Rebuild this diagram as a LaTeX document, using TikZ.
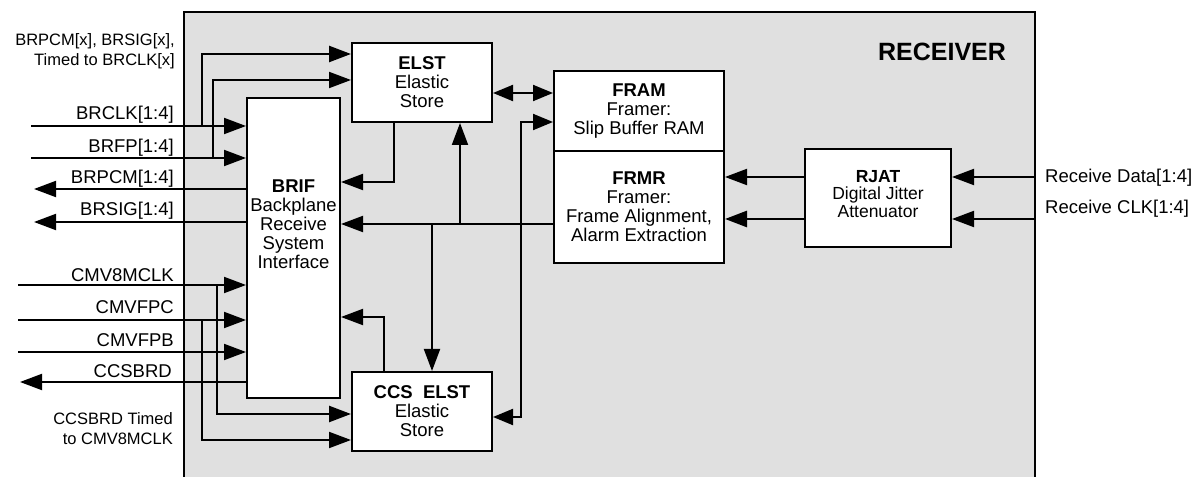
\documentclass[tikz,border=0pt]{standalone}
\usepackage{fontspec}
\setmainfont{Liberation Sans}
\usetikzlibrary{arrows.meta}
\definecolor{bggray}{RGB}{224,224,224}
\begin{document}
\begin{tikzpicture}[x=1bp,y=-1bp,
  box/.style={draw, line width=2bp, fill=white, inner sep=0pt, align=center, font=\fontsize{18.5bp}{19bp}\selectfont},
  wire/.style={line width=2bp},
  arr/.style={wire, -{Triangle[length=22bp,width=16bp]}},
  darr/.style={wire, {Triangle[length=20bp,width=16bp]}-{Triangle[length=20bp,width=16bp]}},
  lbl/.style={inner sep=0pt, font=\fontsize{18.5bp}{19bp}\selectfont},
  note/.style={inner sep=0pt, align=right, font=\fontsize{16.5bp}{20bp}\selectfont}]
\useasboundingbox (0,0) rectangle (1199,477);
\fill[bggray] (184,12) rectangle (1035,477);
\draw[line width=2bp] (184,477) -- (184,12) -- (1035,12) -- (1035,477);
\node[font=\fontsize{25bp}{26bp}\selectfont\bfseries, inner sep=0pt] (title) at (942,52) {RECEIVER};

% blocks
\node[box, minimum width=140bp, minimum height=79bp] (elst) at (422,82.5) {\textbf{ELST}\\Elastic\\Store};
\node[box, minimum width=170bp, minimum height=80bp] (fram) at (639,111) {\textbf{FRAM}\\Framer:\\Slip Buffer RAM};
\node[box, minimum width=170bp, minimum height=112bp] (frmr) at (639,207) {\textbf{FRMR}\\Framer:\\Frame Alignment,\\Alarm Extraction};
\node[box, minimum width=146bp, minimum height=98bp] (rjat) at (878,198) {};
\node[lbl, align=center, font=\fontsize{17.5bp}{17.5bp}\selectfont] (rjattext) at (878,194) {\textbf{RJAT}\\Digital Jitter\\Attenuator};
\node[box, minimum width=93bp, minimum height=300bp] (brif) at (293.5,248) {};
\node[lbl, align=center] (briftext) at (293.5,224) {\textbf{BRIF}\\Backplane\\Receive\\System\\Interface};
\node[box, minimum width=140bp, minimum height=79bp] (ccs) at (422,411.5) {\textbf{CCS\ \ ELST}\\Elastic\\Store};

% left free ends
\coordinate (brclkin) at (31,126);
\coordinate (brfpin) at (31,158);
\coordinate (brpcmout) at (34,189);
\coordinate (brsigout) at (34,222);
\coordinate (cmv8in) at (18,285);
\coordinate (cmvfpcin) at (18,320);
\coordinate (cmvfpbin) at (18,352);
\coordinate (ccsbrdout) at (20,382);
\coordinate (jclk) at (202,126);
\coordinate (jfp) at (213,158);
\coordinate (jcmv8) at (217,285);
\coordinate (jfpc) at (202,320);

\draw[arr] (brclkin) -- (brclkin -| brif.west);
\draw[arr] (brfpin) -- (brfpin -| brif.west);
\draw[arr] (brpcmout -| brif.west) -- (brpcmout);
\draw[arr] (brsigout -| brif.west) -- (brsigout);
\draw[arr] (cmv8in) -- (cmv8in -| brif.west);
\draw[arr] (cmvfpcin) -- (cmvfpcin -| brif.west);
\draw[arr] (cmvfpbin) -- (cmvfpbin -| brif.west);
\draw[arr] (ccsbrdout -| brif.west) -- (ccsbrdout);

\draw[arr, line width=2.5bp] (jclk) |- (elst.west |- 0,54);
\draw[arr] (jfp) |- (elst.west |- 0,80);
\draw[arr, line width=2.5bp] (jcmv8) |- (ccs.west |- 0,414);
\draw[arr] (jfpc) |- (ccs.west |- 0,440);

% left labels
\node[lbl, anchor=base east] (lbrclk) at (174,120) {BRCLK[1:4]};
\node[lbl, anchor=base east] (lbrfp) at (174,153) {BRFP[1:4]};
\node[lbl, anchor=base east] (lbrpcm) at (174,184) {BRPCM[1:4]};
\node[lbl, anchor=base east] (lbrsig) at (174,216) {BRSIG[1:4]};
\node[lbl, anchor=base east] (lcmv8) at (174,282) {CMV8MCLK};
\node[lbl, anchor=base east] (lcmvfpc) at (174,314) {CMVFPC};
\node[lbl, anchor=base east] (lcmvfpb) at (174,347) {CMVFPB};
\node[lbl, anchor=base east] (lccsbrd) at (172,378) {CCSBRD};
\node[note, anchor=north east] (note1) at (175,33) {BRPCM[x], BRSIG[x],\\Timed to BRCLK[x]};
\node[note, anchor=north east] (note2) at (173,412) {CCSBRD Timed\\to CMV8MCLK};

% internal connections
\draw[arr] (frmr.west |- 0,224) -- (brif.east |- 0,224);
\coordinate (jup) at (460,224);
\coordinate (jdown) at (432,224);
\draw[arr] (jup) -- (jup |- elst.south);
\draw[arr] (jdown) -- (jdown |- ccs.north);
\draw[arr] (elst.south -| 394,0) |- (brif.east |- 0,182);
\draw[arr] (ccs.north -| 384,0) |- (brif.east |- 0,317);
\draw[darr] (elst.east |- 0,93) -- (fram.west |- 0,93);
\coordinate (ccsbend) at (521,122);
\draw[darr] (ccs.east |- 0,417) -| (ccsbend) -- (fram.west |- ccsbend);

% right side
\draw[arr] (rjat.west |- 0,177) -- (frmr.east |- 0,177);
\draw[arr, line width=2.7bp] (rjat.west |- 0,219) -- (frmr.east |- 0,219);
\coordinate (rxdata) at (1035,177);
\coordinate (rxclk) at (1035,219);
\draw[arr] (rxdata) -- (rxdata -| rjat.east);
\draw[arr] (rxclk) -- (rxclk -| rjat.east);
\node[lbl, anchor=west] (lrxdata) at (1045,178) {Receive Data[1:4]};
\node[lbl, anchor=base west] (lrxclk) at (1045,214) {Receive CLK[1:4]};
\end{tikzpicture}
\end{document}
